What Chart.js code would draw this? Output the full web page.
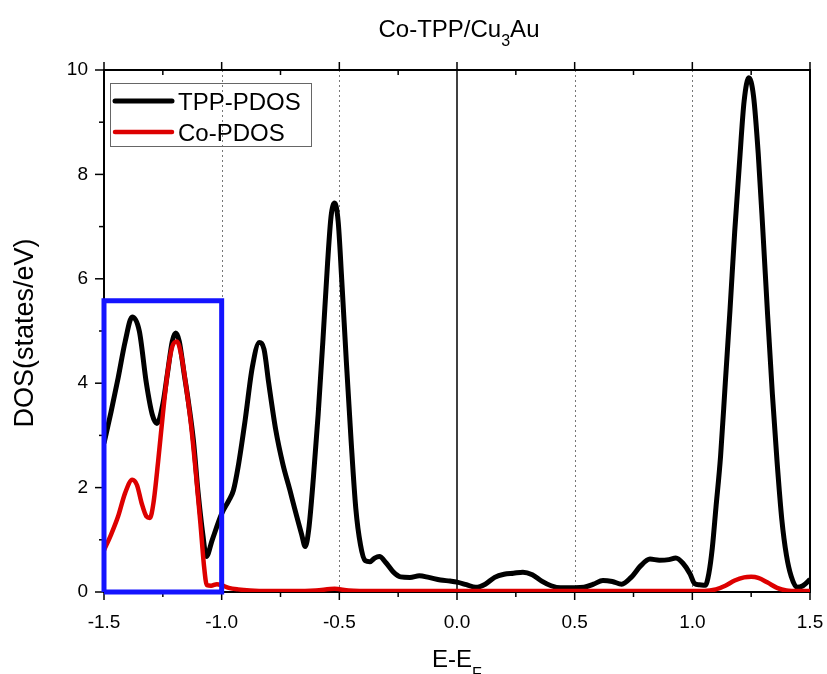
<!DOCTYPE html>
<html>
<head>
<meta charset="utf-8">
<script src="https://cdn.jsdelivr.net/npm/chart.js@4.4.1/dist/chart.umd.min.js"></script>
<style>
  html,body{margin:0;padding:0;background:#fff;}
  #wrap{width:827px;height:674px;}
</style>
</head>
<body>
<div id="wrap"><canvas id="dos"></canvas></div>
<script>
// TPP projected DOS
const tppE = [-1.50,-1.47,-1.44,-1.41,-1.38,-1.35,-1.32,-1.295,-1.275,-1.25,-1.23,-1.21,-1.195,-1.18,-1.16,-1.14,-1.12,-1.10,-1.08,-1.065,-1.04,-1.00,-0.97,-0.95,-0.93,-0.90,-0.87,-0.84,-0.82,-0.80,-0.77,-0.74,-0.71,-0.69,-0.66,-0.645,-0.63,-0.61,-0.59,-0.57,-0.55,-0.535,-0.52,-0.505,-0.49,-0.47,-0.45,-0.43,-0.41,-0.39,-0.37,-0.35,-0.33,-0.30,-0.27,-0.24,-0.20,-0.16,-0.12,-0.07,-0.03,0.00,0.04,0.08,0.12,0.16,0.20,0.24,0.28,0.32,0.36,0.40,0.44,0.50,0.54,0.58,0.62,0.66,0.70,0.74,0.78,0.82,0.86,0.90,0.93,0.96,0.99,1.01,1.03,1.055,1.07,1.085,1.10,1.12,1.14,1.16,1.18,1.20,1.22,1.24,1.26,1.28,1.30,1.32,1.34,1.36,1.38,1.40,1.42,1.445,1.47,1.50];
const tppDos = [2.85,3.45,4.1,4.8,5.27,5.0,4.0,3.4,3.23,3.6,4.2,4.8,4.96,4.8,4.2,3.6,2.9,1.9,1.1,0.68,1.0,1.5,1.75,1.95,2.4,3.3,4.3,4.78,4.65,4.0,3.1,2.45,1.95,1.6,1.1,0.87,1.2,2.2,3.4,4.8,6.3,7.2,7.45,7.1,6.0,4.4,2.9,1.6,0.9,0.6,0.58,0.65,0.68,0.55,0.38,0.29,0.28,0.31,0.28,0.23,0.21,0.19,0.14,0.09,0.15,0.28,0.34,0.36,0.38,0.33,0.21,0.12,0.08,0.08,0.09,0.15,0.22,0.20,0.15,0.28,0.50,0.63,0.61,0.62,0.65,0.55,0.35,0.16,0.14,0.13,0.35,0.85,1.6,2.6,4.0,5.4,6.9,8.2,9.4,9.85,9.5,8.4,6.9,5.3,3.8,2.5,1.4,0.7,0.3,0.09,0.12,0.24];

// Co projected DOS
const coE = [-1.50,-1.47,-1.44,-1.41,-1.38,-1.36,-1.34,-1.32,-1.305,-1.29,-1.27,-1.25,-1.23,-1.21,-1.19,-1.17,-1.15,-1.13,-1.11,-1.09,-1.075,-1.063,-1.045,-1.02,-1.00,-0.97,-0.93,-0.88,-0.80,-0.70,-0.60,-0.52,-0.46,-0.35,-0.20,0.00,0.30,0.60,0.90,1.05,1.10,1.14,1.18,1.22,1.25,1.28,1.32,1.36,1.40,1.45,1.50];
const coDos = [0.80,1.1,1.45,1.9,2.15,2.05,1.7,1.45,1.42,1.7,2.5,3.4,4.2,4.7,4.8,4.5,3.9,3.2,2.3,1.3,0.5,0.13,0.12,0.15,0.13,0.08,0.05,0.03,0.02,0.02,0.03,0.06,0.03,0.02,0.02,0.02,0.02,0.02,0.02,0.02,0.05,0.12,0.22,0.28,0.29,0.27,0.18,0.08,0.03,0.02,0.02];

// highlighted window
const boxE = [-1.5,-1.5,-1.0,-1.0,-1.5];
const boxDos = [0,5.58,5.58,0,0];

const xTicks = [-1.5,-1.0,-0.5,0.0,0.5,1.0,1.5];
const yTicks = [0,2,4,6,8,10];
const dottedAt = [-1.0,-0.5,0.5,1.0];

const FONT = '"Liberation Sans", Arial, Helvetica, sans-serif';
const pts = (xs, ys) => xs.map((x,i)=>({x:x, y:ys[i]}));

// frame, ticks, grid, legend and titles drawn by hand (Origin-style axes)
const decor = {
  id:'decor',
  beforeDatasetsDraw(chart){
    const {ctx, chartArea:a, scales:{x,y}} = chart;
    ctx.save();
    ctx.strokeStyle='#777'; ctx.lineWidth=1; ctx.setLineDash([2,3]);
    dottedAt.forEach(v=>{
      const px=Math.round(x.getPixelForValue(v))+0.5;
      ctx.beginPath(); ctx.moveTo(px,a.top); ctx.lineTo(px,a.bottom); ctx.stroke();
    });
    ctx.setLineDash([]);
    ctx.strokeStyle='#000'; ctx.lineWidth=1.5;
    const zx=x.getPixelForValue(0);
    ctx.beginPath(); ctx.moveTo(zx,a.top); ctx.lineTo(zx,a.bottom); ctx.stroke();

    // frame
    ctx.lineWidth=2;
    ctx.strokeRect(a.left,a.top,a.right-a.left,a.bottom-a.top);

    // x ticks: bottom outward, top major outward, top minor inward
    ctx.lineWidth=1.5;
    xTicks.forEach((v,i)=>{
      const px=x.getPixelForValue(v);
      ctx.beginPath(); ctx.moveTo(px,a.bottom); ctx.lineTo(px,a.bottom+8); ctx.stroke();
      ctx.beginPath(); ctx.moveTo(px,a.top); ctx.lineTo(px,a.top-8); ctx.stroke();
      if(i<xTicks.length-1){
        const m=x.getPixelForValue((v+xTicks[i+1])/2);
        ctx.beginPath(); ctx.moveTo(m,a.bottom); ctx.lineTo(m,a.bottom+5); ctx.stroke();
        ctx.beginPath(); ctx.moveTo(m,a.top); ctx.lineTo(m,a.top+5); ctx.stroke();
      }
    });
    yTicks.forEach((v,i)=>{
      const py=y.getPixelForValue(v);
      ctx.beginPath(); ctx.moveTo(a.left,py); ctx.lineTo(a.left-9,py); ctx.stroke();
      if(i<yTicks.length-1){
        const m=y.getPixelForValue((v+yTicks[i+1])/2);
        ctx.beginPath(); ctx.moveTo(a.left,m); ctx.lineTo(a.left-5,m); ctx.stroke();
      }
    });
    ctx.restore();
  },
  afterDraw(chart){
    const {ctx} = chart;
    ctx.save();
    ctx.fillStyle='#000';
    ctx.textBaseline='alphabetic';

    // title with subscript
    const big='24px '+FONT, small='16px '+FONT;
    ctx.font=big; const w1=ctx.measureText('Co-TPP/Cu').width, w3=ctx.measureText('Au').width;
    ctx.font=small; const w2=ctx.measureText('3').width;
    let tx=459-(w1+w2+w3)/2;
    ctx.textAlign='left';
    ctx.font=big; ctx.fillText('Co-TPP/Cu',tx,37);
    ctx.font=small; ctx.fillText('3',tx+w1,46);
    ctx.font=big; ctx.fillText('Au',tx+w1+w2,37);

    // x axis title
    ctx.font=big; ctx.fillText('E-E',432,667);
    const we=ctx.measureText('E-E').width;
    ctx.font=small; ctx.fillText('F',432+we,679);

    // y axis title
    ctx.translate(33,333); ctx.rotate(-Math.PI/2);
    ctx.font='27px '+FONT; ctx.textAlign='center';
    ctx.fillText('DOS(states/eV)',0,0);
    ctx.restore();

    // legend
    ctx.save();
    ctx.strokeStyle='#666'; ctx.lineWidth=1;
    ctx.strokeRect(110.5,83.5,201,63);
    const items=chart.data.datasets.filter(d=>d.legendRank).sort((p,q)=>p.legendRank-q.legendRank);
    items.forEach((d,i)=>{
      const ly=101+i*31;
      ctx.strokeStyle=d.borderColor; ctx.lineWidth=d.borderWidth; ctx.lineCap='round';
      ctx.beginPath(); ctx.moveTo(115,ly); ctx.lineTo(172,ly); ctx.stroke();
      ctx.fillStyle='#000'; ctx.font='24px '+FONT; ctx.textAlign='left';
      ctx.fillText(d.label,178,ly+9);
    });
    ctx.restore();
  }
};

new Chart(document.getElementById('dos'),{
  type:'line',
  data:{
    datasets:[
      {label:'box',data:pts(boxE,boxDos),borderColor:'#1414ff',borderWidth:5,tension:0,pointRadius:0,clip:8,order:0,borderJoinStyle:'miter'},
      {label:'Co-PDOS',legendRank:2,data:pts(coE,coDos),borderColor:'#dd0000',borderWidth:4.5,cubicInterpolationMode:'monotone',pointRadius:0,order:1},
      {label:'TPP-PDOS',legendRank:1,data:pts(tppE,tppDos),borderColor:'#000',borderWidth:5,cubicInterpolationMode:'monotone',pointRadius:0,order:2}
    ]
  },
  options:{
    responsive:true,
    maintainAspectRatio:false,
    animation:false,
    layout:{padding:{top:70,right:17,left:0,bottom:0}},
    plugins:{legend:{display:false},tooltip:{enabled:false},title:{display:false}},
    scales:{
      x:{
        type:'linear',min:-1.5,max:1.5,
        grid:{display:false,drawTicks:false},border:{display:false},
        afterBuildTicks:s=>{s.ticks=xTicks.map(v=>({value:v}));},
        afterFit:s=>{s.height=82;s.paddingLeft=0;s.paddingRight=0;},
        ticks:{padding:19,color:'#000',font:{family:FONT,size:19},callback:v=>Number(v).toFixed(1),maxRotation:0}
      },
      y:{
        min:0,max:10,
        grid:{display:false,drawTicks:false},border:{display:false},
        afterBuildTicks:s=>{s.ticks=yTicks.map(v=>({value:v}));},
        afterFit:s=>{s.width=104;s.paddingTop=0;s.paddingBottom=0;},
        ticks:{padding:16,color:'#000',font:{family:FONT,size:19},callback:v=>String(v)}
      }
    }
  },
  plugins:[decor]
});
</script>
</body>
</html>
